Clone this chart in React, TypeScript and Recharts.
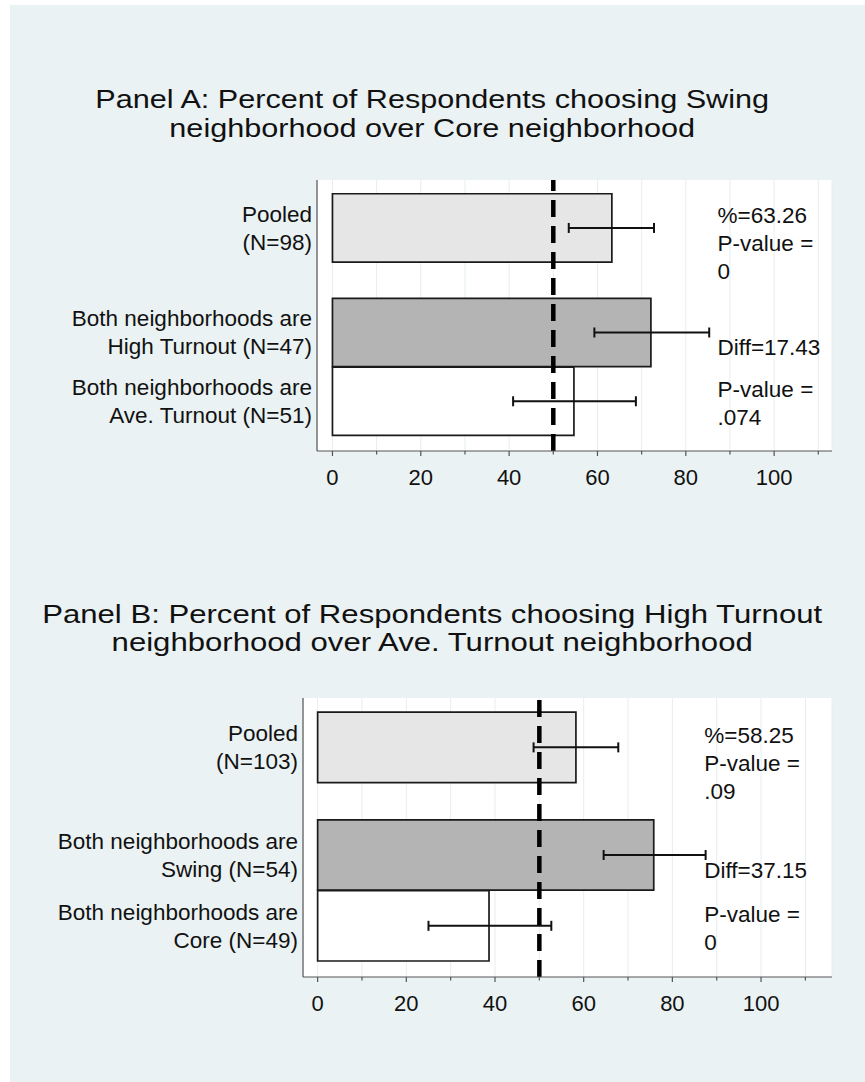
import React from 'react';
import {
  ComposedChart,
  Bar,
  Cell,
  XAxis,
  YAxis,
  CartesianGrid,
  ReferenceLine,
  ReferenceDot,
  ErrorBar,
} from 'recharts';

document.body.style.margin = '0';

const FONT = '"Liberation Sans", Arial, Helvetica, sans-serif';

// Panel A: Swing vs Core
const titleA = ['Panel A: Percent of Respondents choosing Swing', 'neighborhood over Core neighborhood'];
const labelsA = [
  ['Pooled', '(N=98)'],
  ['Both neighborhoods are', 'High Turnout (N=47)'],
  ['Both neighborhoods are', 'Ave. Turnout (N=51)'],
];
const valuesA = [63.26, 72.1, 54.67];
const lowA = [53.5, 59.3, 40.9];
const highA = [72.8, 85.3, 68.7];
const notesA = [['%=63.26', 'P-value =', '0'], ['Diff=17.43'], ['P-value =', '.074']];

// Panel B: High Turnout vs Ave. Turnout
const titleB = ['Panel B: Percent of Respondents choosing High Turnout', 'neighborhood over Ave. Turnout neighborhood'];
const labelsB = [
  ['Pooled', '(N=103)'],
  ['Both neighborhoods are', 'Swing (N=54)'],
  ['Both neighborhoods are', 'Core (N=49)'],
];
const valuesB = [58.25, 75.8, 38.65];
const lowB = [48.7, 64.5, 25.0];
const highB = [67.8, 87.5, 52.7];
const notesB = [['%=58.25', 'P-value =', '.09'], ['Diff=37.15'], ['P-value =', '0']];

const xTicks = [0, 10, 20, 30, 40, 50, 60, 70, 80, 90, 100, 110];
const fills = ['#e6e6e6', '#b4b4b4', '#ffffff'];

// vertical layout in "bar heights": pooled bar, a gap, then the two split bars touching
const TOP_PAD = 0.2;
const GROUP_GAP = 0.52;
const BOTTOM_PAD = 0.22;
const ROW_POS = [TOP_PAD + 0.5, TOP_PAD + 1.5 + GROUP_GAP, TOP_PAD + 2.5 + GROUP_GAP];
const Y_MAX = ROW_POS[2] + 0.5 + BOTTOM_PAD;
const NOTE_SHIFT = [0.22, 0.22, 0.03];
const NOTE_X = 87.2;
const LINE_H = 28;
const TEXT_SIZE = 22.5;

const AXIS = '#555555';

interface PanelProps {
  title: string[];
  titleTop: number;
  titleStretch: number;
  labels: string[][];
  values: number[];
  low: number[];
  high: number[];
  notes: string[][];
  plotTop: number;
  plotBottom: number;
  plotLeft: number;
  plotRight: number;
  xDomain: [number, number];
}

const XTick = (props: any) => {
  const { x, y, payload } = props;
  const v = payload.value as number;
  const major = v % 20 === 0;
  return (
    <g>
      <line x1={x} x2={x} y1={y} y2={y + (major ? 5 : 3.5)} stroke={AXIS} strokeWidth={1.2} />
      {major && v <= 100 ? (
        <text x={x} y={y + 26} textAnchor="middle" dominantBaseline="central" fontSize={22} fontFamily={FONT} fill="#111">
          {v}
        </text>
      ) : null}
    </g>
  );
};

const Panel = (p: PanelProps) => {
  const chartTop = p.plotTop - 20;
  const xAxisH = 45;
  const height = p.plotBottom - chartTop + xAxisH + 10;
  const plotH = p.plotBottom - p.plotTop;
  const barPx = plotH / Y_MAX - 0.4;
  const data = p.values.map((v, i) => ({
    pos: ROW_POS[i],
    value: v,
    err: [v - p.low[i], p.high[i] - v],
  }));

  const YTick = (props: any) => {
    const { x, y, index } = props;
    const lines = p.labels[index] ?? [];
    return (
      <text x={x - 5} y={y} textAnchor="end" fontSize={TEXT_SIZE} fontFamily={FONT} fill="#111">
        {lines.map((l, i) => (
          <tspan key={i} x={x - 5} y={y + (i - (lines.length - 1) / 2) * LINE_H} dominantBaseline="central">
            {l}
          </tspan>
        ))}
      </text>
    );
  };

  return (
    <>
      <div
        style={{
          position: 'absolute',
          top: p.titleTop,
          left: 0,
          width: 865,
          textAlign: 'center',
          fontFamily: FONT,
          fontSize: 25.5,
          lineHeight: '28.5px',
          color: '#111',
          transform: `scaleX(${p.titleStretch})`,
          transformOrigin: '434px 0',
        }}
      >
        {p.title.map((t, i) => (
          <div key={i}>{t}</div>
        ))}
      </div>
      <div style={{ position: 'absolute', top: chartTop, left: 0 }}>
        <ComposedChart
          layout="vertical"
          width={865}
          height={height}
          data={data}
          margin={{ top: 20, left: 0, right: 865 - p.plotRight, bottom: 10 }}
        >
          <CartesianGrid horizontal={false} stroke="#e6eef0" strokeWidth={1} fill="#ffffff" />
          <XAxis
            type="number"
            dataKey="value"
            domain={p.xDomain}
            allowDataOverflow
            ticks={xTicks}
            interval={0}
            height={xAxisH}
            tickSize={0}
            tickMargin={0}
            tickLine={false}
            axisLine={{ stroke: AXIS, strokeWidth: 1.2 }}
            tick={<XTick />}
          />
          <YAxis
            type="number"
            dataKey="pos"
            domain={[0, Y_MAX]}
            allowDataOverflow
            ticks={ROW_POS}
            interval={0}
            width={p.plotLeft}
            tickSize={0}
            tickMargin={0}
            tickLine={false}
            axisLine={{ stroke: AXIS, strokeWidth: 1.2 }}
            tick={<YTick />}
          />
          <Bar dataKey="value" barSize={barPx} stroke="#1a1a1a" strokeWidth={1.7} isAnimationActive={false}>
            {data.map((_, i) => (
              <Cell key={i} fill={fills[i]} />
            ))}
            <ErrorBar dataKey="err" direction="x" width={5} stroke="#111" strokeWidth={2} />
          </Bar>
          <ReferenceLine x={50} stroke="#000" strokeWidth={4.5} strokeDasharray="17 9" />
          {p.notes.map((lines, i) => (
            <ReferenceDot
              key={i}
              x={NOTE_X}
              y={ROW_POS[i] + NOTE_SHIFT[i]}
              r={0}
              fill="none"
              stroke="none"
              label={(lp: any) => {
                const vb = lp.viewBox || {};
                const cx = vb.x ?? 0;
                const cy = vb.y ?? 0;
                return (
                  <text fontSize={TEXT_SIZE} fontFamily={FONT} fill="#111">
                    {lines.map((l, j) => (
                      <tspan key={j} x={cx} y={cy + (j - (lines.length - 1) / 2) * LINE_H} dominantBaseline="central">
                        {l}
                      </tspan>
                    ))}
                  </text>
                );
              }}
            />
          ))}
        </ComposedChart>
      </div>
    </>
  );
};

export default function App() {
  return (
    <div style={{ position: 'relative', width: 865, height: 1082, background: '#ffffff', overflow: 'hidden' }}>
      <div style={{ position: 'absolute', left: 10, top: 5, right: 0, bottom: 0, background: '#eaf2f3' }} />
      <Panel
        title={titleA}
        titleTop={85}
        titleStretch={1.2}
        labels={labelsA}
        values={valuesA}
        low={lowA}
        high={highA}
        notes={notesA}
        plotTop={180}
        plotBottom={451}
        plotLeft={317}
        plotRight={832}
        xDomain={[-3.5, 113.1]}
      />
      <Panel
        title={titleB}
        titleTop={599.5}
        titleStretch={1.22}
        labels={labelsB}
        values={valuesB}
        low={lowB}
        high={highB}
        notes={notesB}
        plotTop={698}
        plotBottom={977}
        plotLeft={303}
        plotRight={832}
        xDomain={[-3.3, 116.0]}
      />
    </div>
  );
}
